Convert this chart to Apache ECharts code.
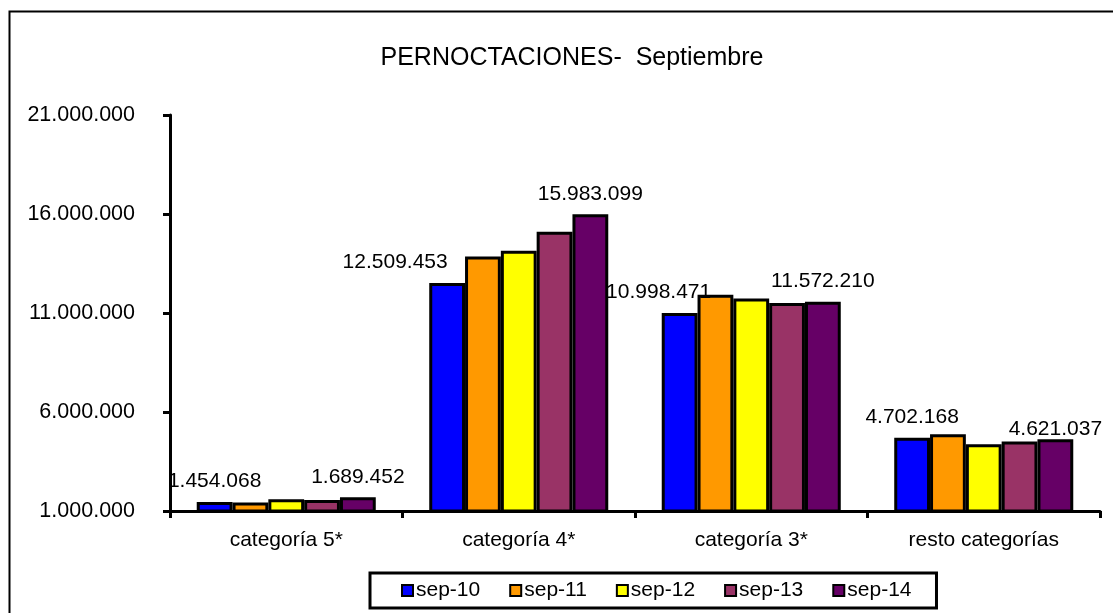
<!DOCTYPE html>
<html><head><meta charset="utf-8">
<script src="https://cdn.jsdelivr.net/npm/echarts@6/dist/echarts.min.js"></script>
<style>html,body{margin:0;padding:0;background:#fff}#c{width:1113px;height:613px}</style>
</head><body><div id="c"></div>
<script>
const categories = ['categoría 5*', 'categoría 4*', 'categoría 3*', 'resto categorías'];
const seriesNames = ['sep-10', 'sep-11', 'sep-12', 'sep-13', 'sep-14'];
const sep10 = [1454068, 12509453, 10998471, 4702168];
const sep11 = [1430000, 13850000, 11920000, 4880000];
const sep12 = [1590000, 14150000, 11730000, 4370000];
const sep13 = [1560000, 15100000, 11500000, 4510000];
const sep14 = [1689452, 15983099, 11572210, 4621037];
const yTicks = [1000000, 6000000, 11000000, 16000000, 21000000];
const colors = ['#0000FF', '#FF9900', '#FFFF00', '#993366', '#660066'];
const labelled = [true, false, false, false, true];
const labelShift = {'0-1': [-52, 0], '0-2': [-21, 0], '4-3': [0, 10]};

const values = [sep10, sep11, sep12, sep13, sep14];
const fmt = v => String(v).replace(/\B(?=(\d{3})+(?!\d))/g, '.');
const FONT = 'Liberation Sans, Arial, sans-serif';

const series = values.map((arr, si) => ({
  name: seriesNames[si],
  type: 'bar',
  barGap: '0%',
  barCategoryGap: '23%',
  itemStyle: { color: colors[si], borderColor: '#000', borderWidth: 3 },
  data: arr.map((v, ci) => {
    const item = { value: v };
    const sh = labelShift[si + '-' + ci];
    if (sh) item.label = { offset: sh };
    return item;
  }),
  label: {
    show: labelled[si], position: 'top', distance: 10,
    formatter: p => fmt(p.value),
    color: '#000', fontSize: 21, fontFamily: FONT
  }
}));

const chart = echarts.init(document.getElementById('c'), null, { renderer: 'canvas' });
chart.setOption({
  animation: false,
  color: colors,
  title: {
    text: 'PERNOCTACIONES-  Septiembre', left: 567, top: 41, textAlign: 'center',
    textStyle: { fontSize: 25, fontWeight: 'normal', color: '#000', fontFamily: FONT }
  },
  grid: { left: 170, right: 13, top: 115, bottom: 102, containLabel: false },
  xAxis: {
    type: 'category', data: categories,
    axisLine: { lineStyle: { color: '#000', width: 3 } },
    axisTick: { show: true, length: 7, lineStyle: { color: '#000', width: 3 }, alignWithLabel: false },
    axisLabel: { color: '#000', fontSize: 21, fontFamily: FONT, margin: 19 }
  },
  yAxis: {
    type: 'value', min: yTicks[0], max: yTicks[yTicks.length - 1],
    interval: yTicks[1] - yTicks[0],
    axisLine: { show: true, lineStyle: { color: '#000', width: 3 } },
    axisTick: { show: true, length: 7, lineStyle: { color: '#000', width: 3 } },
    splitLine: { show: false },
    axisLabel: { color: '#000', fontSize: 21.5, fontFamily: FONT, margin: 35, formatter: v => fmt(v) }
  },
  legend: {
    data: seriesNames, bottom: 5, left: 370,
    itemWidth: 11, itemHeight: 11, itemGap: 29,
    padding: [7, 25, 7, 31],
    borderColor: '#000', borderWidth: 3, backgroundColor: '#fff',
    textStyle: { color: '#000', fontSize: 21, fontFamily: FONT, padding: [0, 0, 0, -2] },
    itemStyle: { borderColor: '#000', borderWidth: 2 },
    icon: 'rect'
  },
  graphic: [{
    type: 'rect', z: -1, silent: true,
    shape: { x: 9.5, y: 11.5, width: 1200, height: 700 },
    style: { fill: 'none', stroke: '#000', lineWidth: 2 }
  }],
  series
});
</script></body></html>
